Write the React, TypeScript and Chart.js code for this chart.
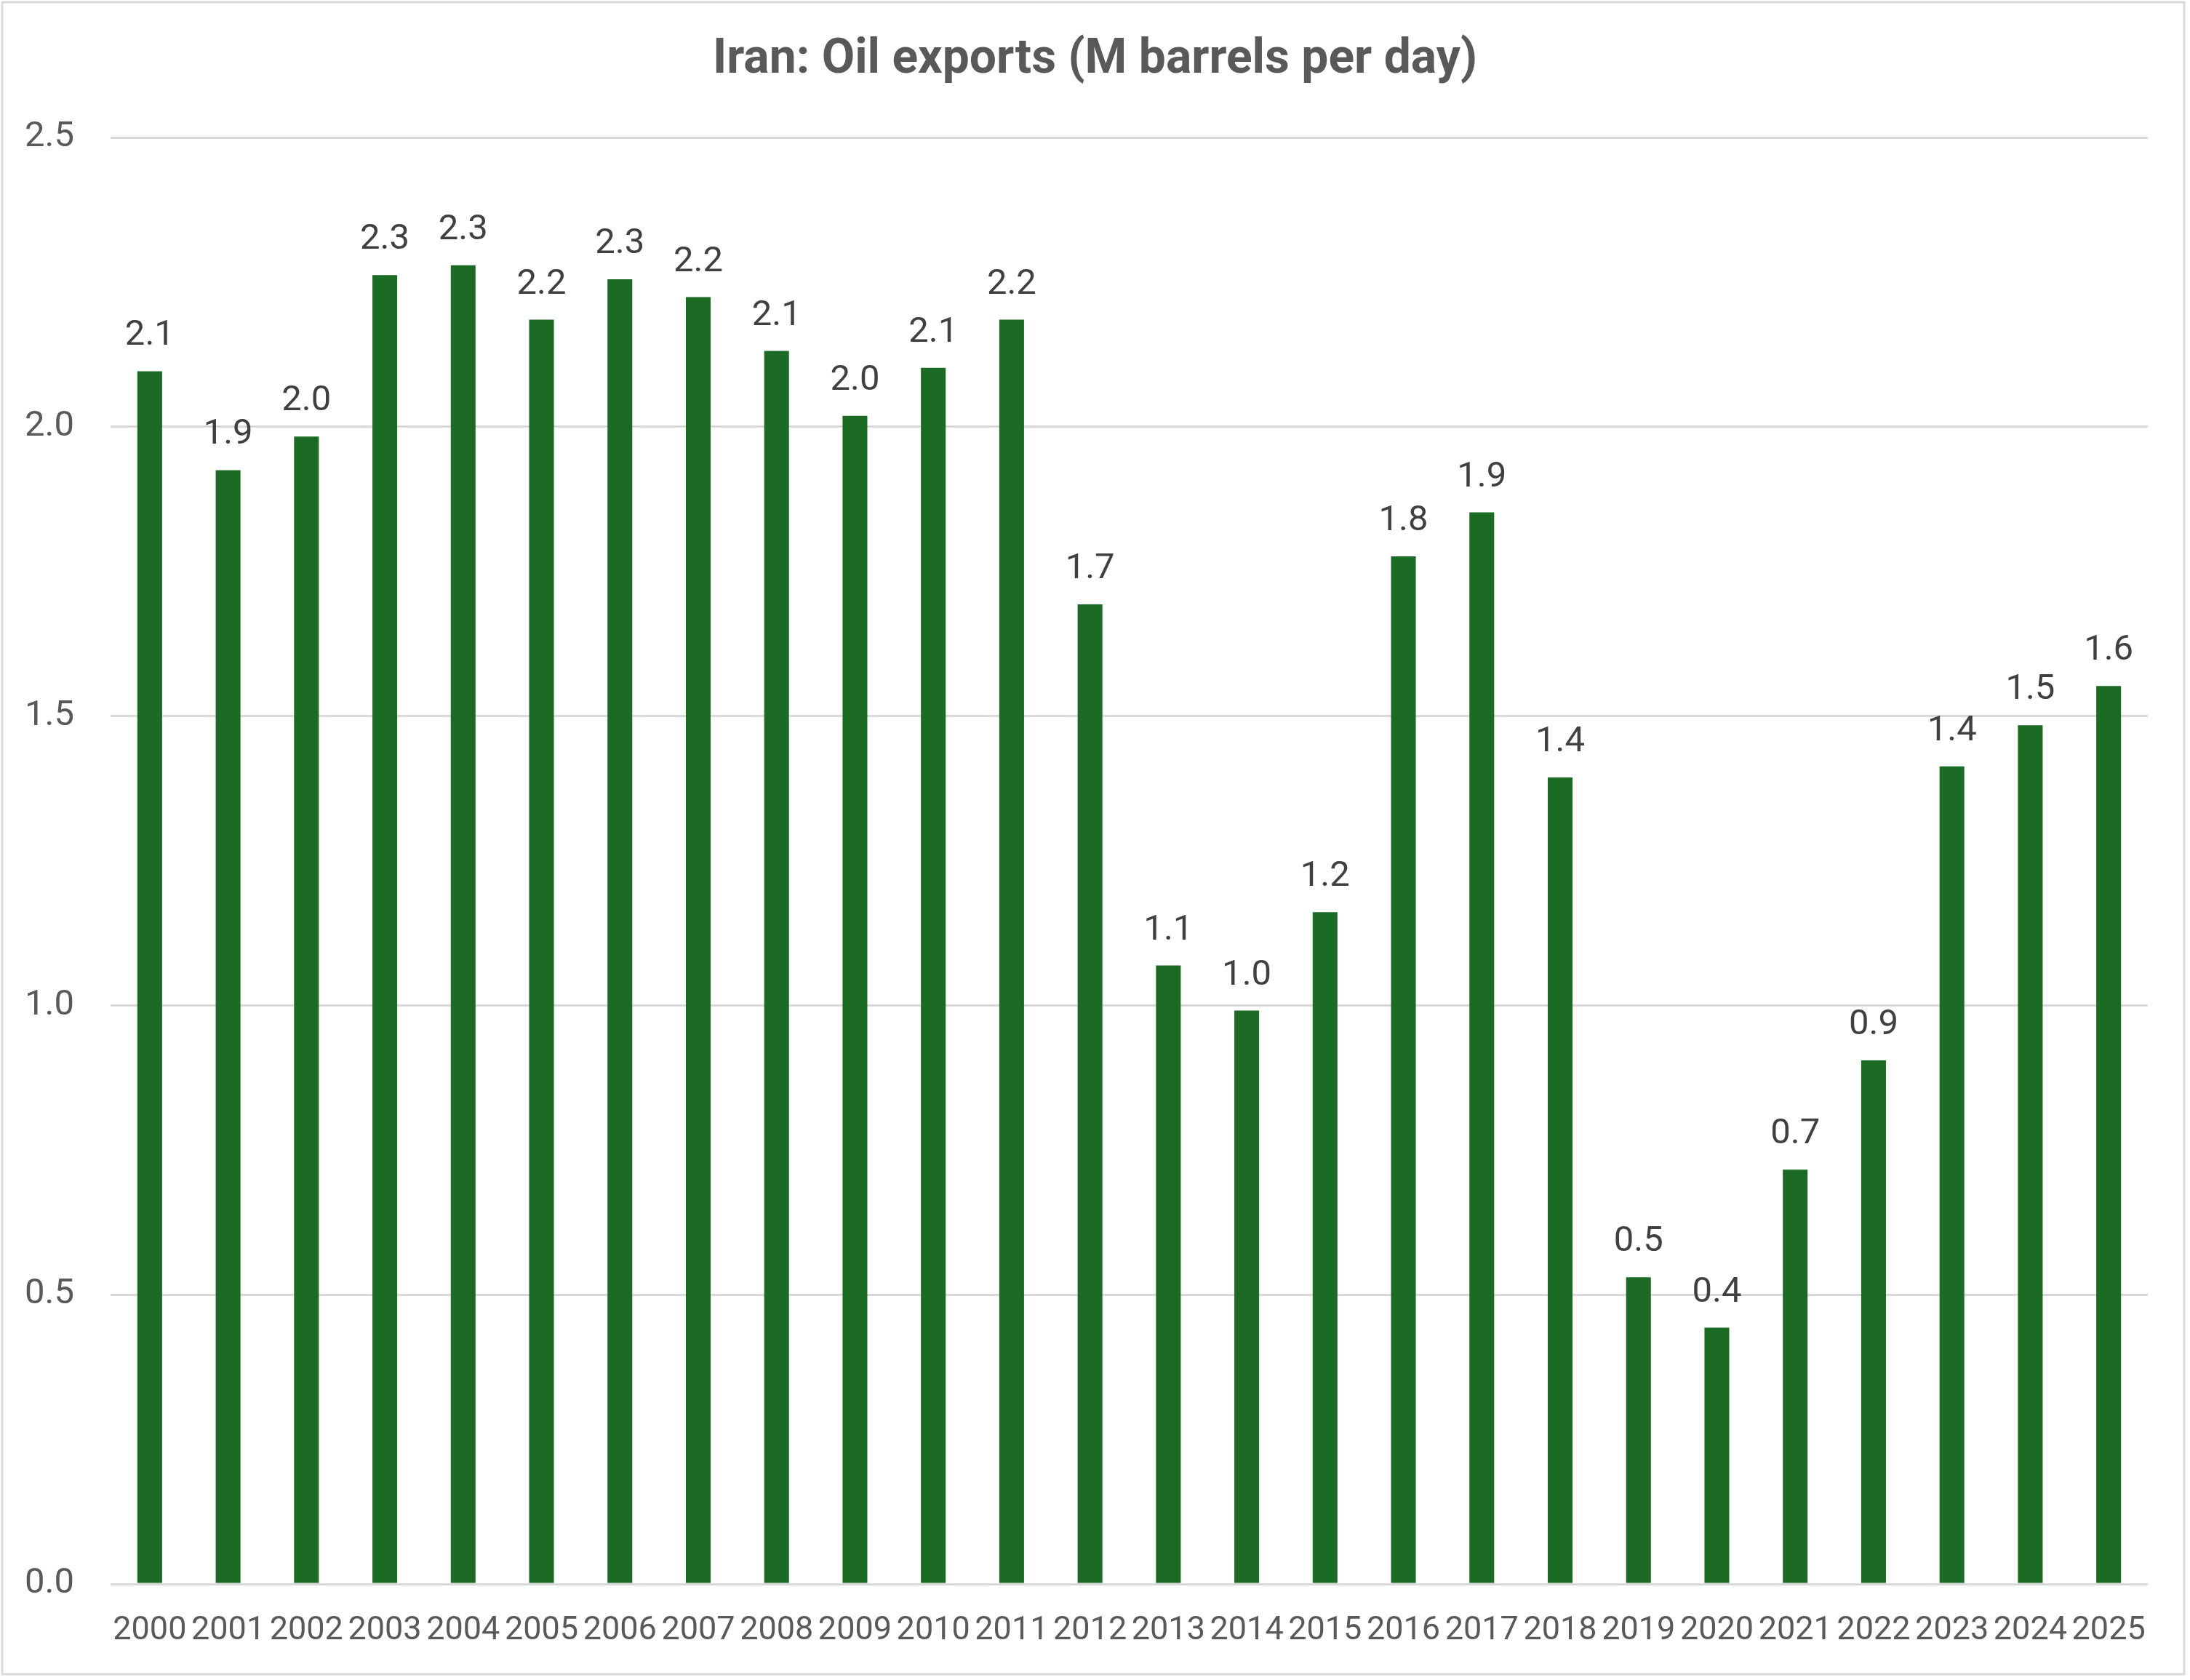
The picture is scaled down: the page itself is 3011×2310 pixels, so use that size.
import React, { useEffect, useRef } from "react";
import { Chart, registerables } from "chart.js";

Chart.register(...registerables);

const TITLE = "Iran: Oil exports (M barrels per day)";
const YEARS = [
  "2000", "2001", "2002", "2003", "2004", "2005", "2006", "2007", "2008", "2009",
  "2010", "2011", "2012", "2013", "2014", "2015", "2016", "2017", "2018", "2019",
  "2020", "2021", "2022", "2023", "2024", "2025",
];
const EXPORTS = [
  2.096, 1.925, 1.983, 2.262, 2.279, 2.185, 2.255, 2.224, 2.131, 2.019,
  2.102, 2.185, 1.693, 1.069, 0.991, 1.161, 1.776, 1.852, 1.394, 0.53,
  0.443, 0.716, 0.905, 1.413, 1.484, 1.552,
];
const Y_TICKS = [0, 0.5, 1.0, 1.5, 2.0, 2.5];

const W = 3011;
const H = 2310;
const FONT = "Roboto, 'Liberation Sans', Arial, sans-serif";

const framePlugin = {
  id: "frame",
  beforeDraw(chart: any) {
    const ctx = chart.ctx;
    ctx.save();
    ctx.fillStyle = "#ffffff";
    ctx.fillRect(0, 0, chart.width, chart.height);
    ctx.strokeStyle = "#d9d9d9";
    ctx.lineWidth = 3;
    ctx.strokeRect(3, 3, 3000, 2299);
    ctx.fillStyle = "#595959";
    ctx.font = `bold 66px ${FONT}`;
    ctx.textAlign = "center";
    ctx.textBaseline = "middle";
    ctx.fillText(TITLE, chart.width / 2, 83);
    ctx.restore();
  },
};

const labelPlugin = {
  id: "valueLabels",
  afterDatasetsDraw(chart: any) {
    const ctx = chart.ctx;
    const meta = chart.getDatasetMeta(0);
    ctx.save();
    ctx.fillStyle = "#404040";
    ctx.font = `49px ${FONT}`;
    ctx.textAlign = "center";
    ctx.textBaseline = "alphabetic";
    meta.data.forEach((bar: any, i: number) => {
      const v = chart.data.datasets[0].data[i] as number;
      ctx.fillText(v.toFixed(1), bar.x, bar.y - 36);
    });
    ctx.restore();
  },
};

export default function App() {
  const ref = useRef<HTMLCanvasElement | null>(null);

  useEffect(() => {
    document.body.style.margin = "0";
    document.body.style.overflow = "hidden";
    const canvas = ref.current;
    if (!canvas) return;
    const chart = new Chart(canvas, {
      type: "bar",
      data: {
        labels: YEARS,
        datasets: [
          {
            data: EXPORTS,
            backgroundColor: "#1b6b24",
            borderWidth: 0,
            categoryPercentage: 1,
            barPercentage: 0.316,
          },
        ],
      },
      options: {
        animation: false,
        responsive: false,
        devicePixelRatio: 1,
        layout: { padding: { top: 189, left: 0, right: 58, bottom: 0 } },
        plugins: {
          legend: { display: false },
          title: { display: false },
          tooltip: { enabled: false },
        },
        scales: {
          x: {
            grid: { display: false, drawTicks: false },
            border: { display: false },
            ticks: {
              color: "#595959",
              font: { family: FONT, size: 45 },
              padding: 38,
              maxRotation: 0,
              autoSkip: false,
            },
            afterFit(scale: any) {
              scale.height = 132;
            },
          },
          y: {
            min: 0,
            max: 2.5,
            afterBuildTicks(scale: any) {
              scale.ticks = Y_TICKS.map((v) => ({ value: v }));
            },
            grid: { color: "#d9d9d9", lineWidth: 3, drawTicks: false },
            border: { display: false },
            ticks: {
              color: "#595959",
              font: { family: FONT, size: 49 },
              padding: 50,
              callback: (v: any) => Number(v).toFixed(1),
            },
            afterFit(scale: any) {
              scale.width = 152;
            },
          },
        },
      },
      plugins: [framePlugin, labelPlugin],
    });
    return () => chart.destroy();
  }, []);

  return (
    <canvas
      ref={ref}
      width={W}
      height={H}
      style={{ display: "block", width: W + "px", height: H + "px" }}
    />
  );
}
